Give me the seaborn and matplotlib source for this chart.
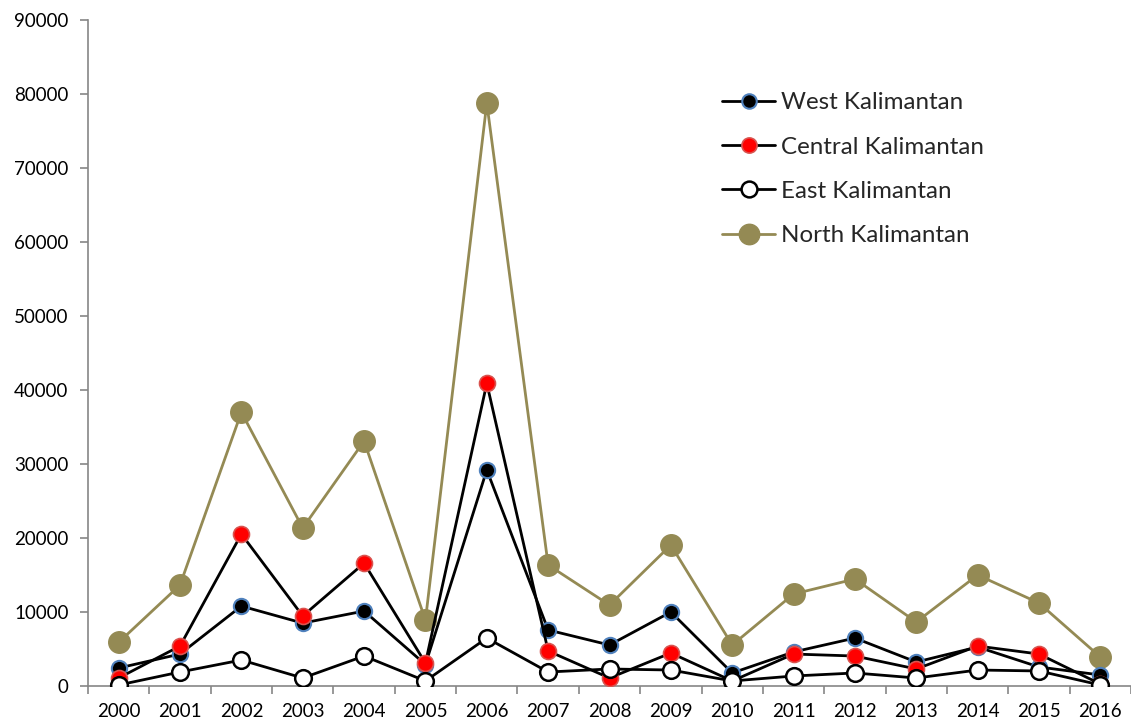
import matplotlib
matplotlib.use("Agg")
import matplotlib.pyplot as plt
import seaborn as sns
import pandas as pd
from matplotlib.ticker import MultipleLocator, FixedLocator

years = list(range(2000, 2017))
west = [2430, 4320, 10800, 8500, 10130, 2900, 29200, 7570, 5540, 10000,
        1760, 4600, 6480, 3240, 5270, 2570, 1490]
central = [1080, 5400, 20530, 9460, 16600, 3100, 40900, 4730, 1080, 4460,
           680, 4320, 4050, 2300, 5400, 4320, 270]
east = [135, 1890, 3510, 1080, 4050, 680, 6480, 1890, 2300, 2160,
        680, 1350, 1760, 1080, 2160, 2030, 135]
north = [5900, 13650, 37000, 21350, 33100, 8900, 78770, 16350, 10940, 19050,
         5540, 12430, 14460, 8650, 15000, 11210, 3920]

series_names = ["West Kalimantan", "Central Kalimantan", "East Kalimantan", "North Kalimantan"]
series_values = [west, central, east, north]

df = pd.DataFrame({"year": years})
for name, vals in zip(series_names, series_values):
    df[name] = vals

sns.set_theme(style="white")
plt.rcParams["font.family"] = ["Lato", "DejaVu Sans"]

fig = plt.figure(figsize=(11.31, 7.24), dpi=100)
ax = fig.add_axes([88 / 1131, 1 - 686 / 724, (1131 - 88) / 1131, (686 - 20) / 724])

styles = {
    "West Kalimantan": dict(color="black", lw=2.0, marker="o", ms=11,
                            mfc="black", mec="#4F81BD", mew=1.5, zorder=3),
    "Central Kalimantan": dict(color="black", lw=2.0, marker="o", ms=11.5,
                               mfc="#FF0000", mec="#D9534F", mew=1.2, zorder=4),
    "East Kalimantan": dict(color="black", lw=2.0, marker="o", ms=12,
                            mfc="white", mec="black", mew=1.8, zorder=5),
    "North Kalimantan": dict(color="#948A54", lw=2.0, marker="o", ms=15.5,
                             mfc="#948A54", mec="#948A54", mew=1, zorder=2),
}

for name in series_names:
    st = styles[name]
    sns.lineplot(data=df, x="year", y=name, ax=ax, label=name,
                 color=st["color"], linewidth=st["lw"], marker=st["marker"],
                 markersize=st["ms"], markerfacecolor=st["mfc"],
                 markeredgecolor=st["mec"], markeredgewidth=st["mew"],
                 zorder=st["zorder"])

ax.set_xlim(1999.5, 2016.5)
ax.set_ylim(0, 90000)
ax.yaxis.set_major_locator(MultipleLocator(10000))
ax.set_xticks(years)
ax.set_xticklabels([str(y) for y in years])
ax.xaxis.set_minor_locator(FixedLocator([y + 0.5 for y in range(1999, 2017)]))
ax.tick_params(axis="x", which="major", length=0, labelsize=13.5, pad=12, labelcolor="black")
ax.tick_params(axis="x", which="minor", length=6, width=1.2, color="#868686", bottom=True)
ax.tick_params(axis="y", which="major", length=6, width=1.2, color="#868686", left=True,
               labelsize=13.5, pad=8, labelcolor="black")
ax.set_xlabel("")
ax.set_ylabel("")

for side in ["top", "right"]:
    ax.spines[side].set_visible(False)
for side in ["left", "bottom"]:
    ax.spines[side].set_color("#868686")
    ax.spines[side].set_linewidth(1.2)

leg = ax.legend(loc="upper left", bbox_to_anchor=(0.587, 0.924), frameon=False,
                fontsize=17.4, handlelength=2.2, handletextpad=0.25,
                labelspacing=0.96, markerscale=0.95)

fig.savefig("out.png", dpi=100)
